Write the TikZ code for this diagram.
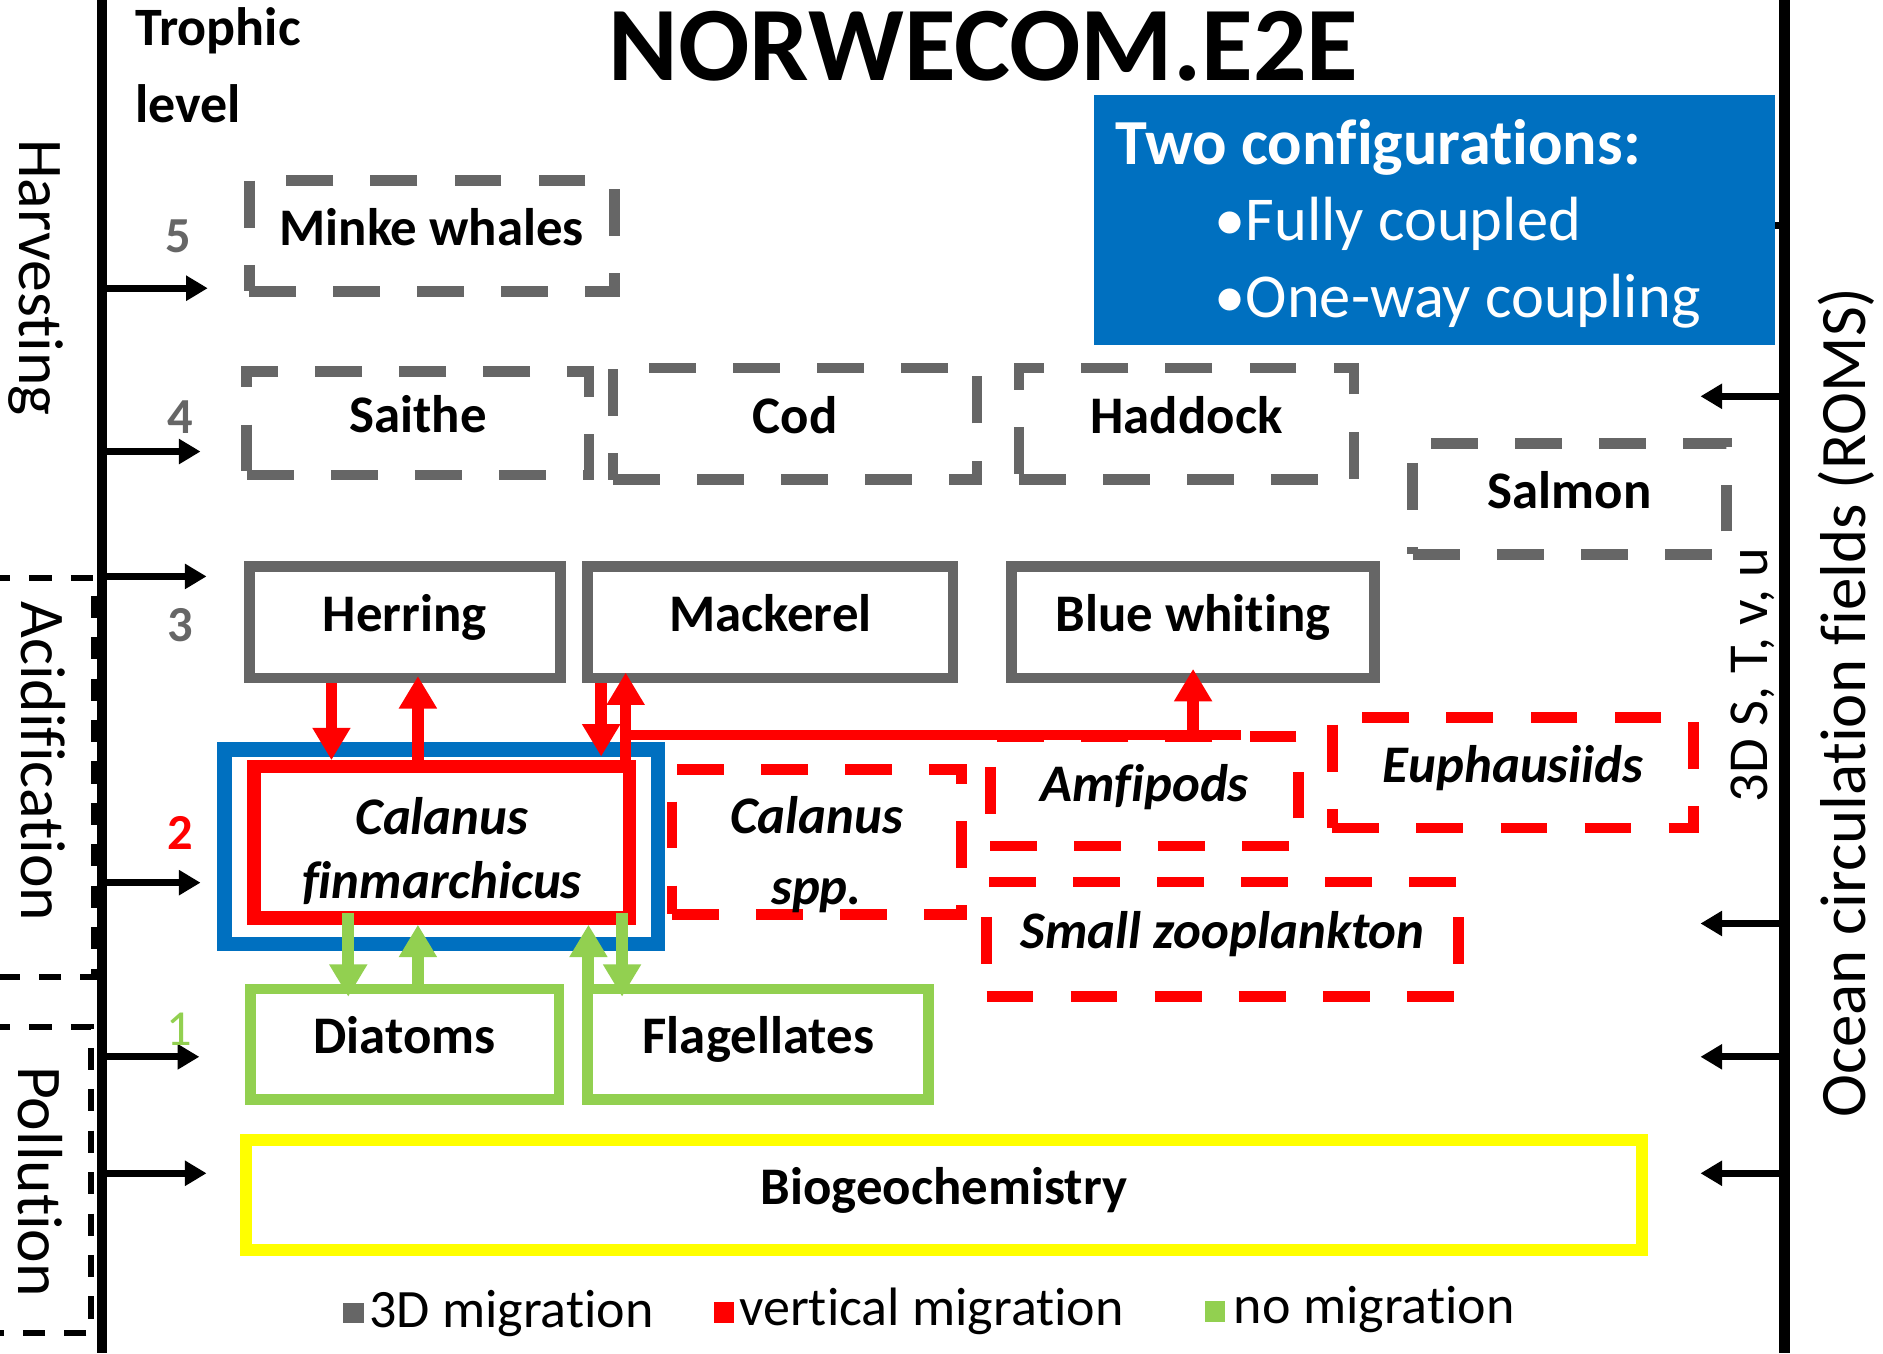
\documentclass[tikz,border=0pt]{standalone}
\usepackage{fontspec}
\setmainfont{Carlito}[Ligatures=NoCommon]
\usetikzlibrary{arrows.meta}
\definecolor{tgray}{HTML}{666666}
\definecolor{tred}{HTML}{FF0000}
\definecolor{tgreen}{HTML}{92D050}
\definecolor{tblue}{HTML}{0070C0}
\definecolor{tyellow}{HTML}{FFFF00}
\begin{document}
\begin{tikzpicture}[x=1pt,y=-1pt,
  box/.style={line width=9pt, inner sep=0pt, text height=33pt, text depth=17pt,
    font=\fontsize{44}{50}\selectfont\bfseries},
  solidg/.style={box, draw=tgray},
  dashg/.style={box, draw=tgray, dash pattern=on 39pt off 31pt},
  dashr/.style={box, draw=tred, dash pattern=on 39pt off 31pt,
    font=\fontsize{44}{50}\selectfont\bfseries\itshape},
  greenbox/.style={box, draw=tgreen},
  yelbox/.style={box, draw=tyellow, line width=10pt},
  barr/.style={line width=5.5pt, -{Triangle[length=18pt,width=20pt]}},
  rarr/.style={draw=tred, line width=9.5pt, -{Triangle[length=27pt,width=30pt]}},
  garr/.style={draw=tgreen, line width=10pt, -{Triangle[length=27pt,width=30pt]}},
  sidetext/.style={font=\fontsize{53}{60}\selectfont},
  numtext/.style={anchor=base, font=\fontsize{42}{48}\selectfont\bfseries},
  legtext/.style={anchor=base west, font=\fontsize{45}{50}\selectfont},
  legsq/.style={minimum size=17pt, inner sep=0pt},
  cfgtext/.style={anchor=base west, text=white, font=\fontsize{52}{58}\selectfont}
]
\useasboundingbox (0,0) rectangle (1568,1127);

% side dashed frames
\draw[line width=5pt, dash pattern=on 18.5pt off 16pt, dash phase=10pt]
  (0,481) -- (78.5,481) -- (78.5,813.5) -- (0,813.5);
\draw[line width=5pt, dash pattern=on 18.5pt off 16pt, dash phase=10pt]
  (0,855) -- (76,855) -- (76,1110) -- (0,1110);

% main vertical lines
\coordinate (ltop) at (85,0);
\coordinate (lbot) at (85,1127);
\coordinate (rtop) at (1486,0);
\coordinate (rbot) at (1486,1127);
\draw[line width=9pt] (ltop) -- (lbot);
\draw[line width=9pt] (rtop) -- (rbot);

% harvesting / forcing arrows (left)
\coordinate (hs5) at (85,240);  \coordinate (he5) at (173,240);
\coordinate (hs4) at (85,376);  \coordinate (he4) at (167,376);
\coordinate (hs3) at (85,480);  \coordinate (he3) at (172,480);
\coordinate (hs2) at (85,735);  \coordinate (he2) at (167,735);
\coordinate (hs1) at (85,880);  \coordinate (he1) at (166,880);
\coordinate (hs0) at (85,977);  \coordinate (he0) at (172,977);
\foreach \n in {5,4,3,2,1,0} \draw[barr] (hs\n) -- (he\n);

% ocean forcing arrows (right)
\coordinate (os5) at (1486,188);  \coordinate (oe5) at (1416,188);
\coordinate (os4) at (1486,330);  \coordinate (oe4) at (1416,330);
\coordinate (os2) at (1486,769);  \coordinate (oe2) at (1416,769);
\coordinate (os1) at (1486,880);  \coordinate (oe1) at (1416,880);
\coordinate (os0) at (1486,977);  \coordinate (oe0) at (1416,977);
\foreach \n in {5,4,2,1,0} \draw[barr] (os\n) -- (oe\n);

% title and headings
\node[anchor=base, font=\fontsize{88}{94}\selectfont\bfseries] (title) at (819,67) {NORWECOM.E2E};
\node[anchor=base west, font=\fontsize{45}{50}\selectfont\bfseries] (troph) at (109,38) {Trophic};
\node[anchor=base west, font=\fontsize{45}{50}\selectfont\bfseries] (level) at (109,102) {level};

% configuration box
\node[fill=tblue, minimum width=567pt, minimum height=208pt, inner sep=0pt] (config) at (1194.5,183) {};
\node[cfgtext, font=\fontsize{53.5}{58}\selectfont\bfseries] (cfg1) at (925,137) {Two configurations:};
\node[cfgtext] (cfg2) at (1008,200) {•Fully coupled};
\node[cfgtext] (cfg3) at (1008,264) {•One-way coupling};

% side labels
\node[sidetext, rotate=-90, anchor=base] (harv) at (16,231) {Harvesting};
\node[sidetext, rotate=-90, anchor=base] (acid) at (18,634) {Acidification};
\node[sidetext, rotate=-90, anchor=base] (poll) at (15.3,984) {Pollution};
\node[sidetext, rotate=90, anchor=base, font=\fontsize{54}{60}\selectfont] (ocean) at (1553,585) {Ocean circulation fields (ROMS)};
\node[rotate=90, anchor=base, font=\fontsize{47}{52}\selectfont] (vars) at (1472,562) {3D S, T, v, u};

% trophic level numbers
\node[numtext, text=tgray] (n5) at (148.5,210) {5};
\node[numtext, text=tgray] (n4) at (150.5,361) {4};
\node[numtext, text=tgray] (n3) at (150.5,534.5) {3};
\node[numtext, text=tred] (n2) at (150.5,707) {2};
\node[numtext, text=tgreen, font=\fontsize{42}{48}\selectfont] (n1) at (149,871) {1};

% level 5 and 4
\node[dashg, minimum width=304pt, minimum height=92pt] (minke) at (359.5,196.5) {Minke whales};
\node[dashg, minimum width=285pt, minimum height=86pt] (saithe) at (348,352.5) {Saithe};
\node[dashg, minimum width=303pt, minimum height=93pt] (cod) at (662,353) {Cod};
\node[dashg, minimum width=279pt, minimum height=93pt] (haddock) at (988,353) {Haddock};
\node[dashg, minimum width=261pt, minimum height=92pt] (salmon) at (1307,415.5) {Salmon};

% level 3
\node[solidg, minimum width=259pt, minimum height=93pt] (herring) at (337,518) {Herring};
\node[solidg, minimum width=304pt, minimum height=93pt] (mackerel) at (641.5,518) {Mackerel};
\node[solidg, minimum width=302pt, minimum height=93pt] (bluew) at (993.5,518) {Blue whiting};

% level 2
\node[draw=tblue, line width=12pt, minimum width=361pt, minimum height=162pt, inner sep=0pt] (cbox) at (367.5,705) {};
\node[draw=tred, line width=11pt, minimum width=313pt, minimum height=126pt, inner sep=0pt,
  align=center, font=\fontsize{44}{53}\selectfont\bfseries\itshape] (cfin) at (368,701.5)
  {\rule{0pt}{45pt}Calanus\\finmarchicus};
\node[dashr, text height={}, text depth={}, minimum width=241pt, minimum height=121pt,
  align=center, font=\fontsize{44}{59}\selectfont\bfseries\itshape] (cspp) at (680,701)
  {\rule{0pt}{52pt}Calanus\\spp.};
\node[dashr, minimum width=257pt, minimum height=91pt] (amfi) at (953,659) {Amfipods};
\node[dashr, minimum width=301pt, minimum height=92pt] (euph) at (1260,643.5) {Euphausiids};
\node[dashr, minimum width=393pt, minimum height=95pt] (smallz) at (1018,782) {Small zooplankton};

% level 1 and biogeochemistry
\node[greenbox, minimum width=257pt, minimum height=92pt] (diatoms) at (337,869.5) {Diatoms};
\node[greenbox, minimum width=284pt, minimum height=92pt] (flag) at (631.5,869.5) {Flagellates};
\node[yelbox, minimum width=1162pt, minimum height=92pt] (biogeo) at (786,995) {Biogeochemistry};

% connectors
\coordinate (c276) at (276,0);
\coordinate (c348) at (348,0);
\coordinate (c501) at (500.6,0);
\coordinate (c521) at (521,0);
\coordinate (c290) at (290,0);
\coordinate (c490) at (490,0);
\coordinate (c518) at (518,0);
\coordinate (rj) at (521,612);
\coordinate (rje) at (1033,612);

\draw[rarr] (herring.south -| c276) -- (cfin.north -| c276);
\draw[rarr, shorten >=-6pt] (cfin.north -| c348) -- (herring.south -| c348);
\draw[rarr, shorten >=3pt] (mackerel.south -| c501) -- (cfin.north -| c501);
\draw[rarr, shorten >=-9pt] (cfin.north -| c521) -- (mackerel.south -| c521);
\draw[tred, line width=8.5pt] (rj) -- (rje);
\draw[rarr, shorten >=-12pt] (rj -| bluew) -- (bluew.south);

\draw[garr, shorten <=-10pt, shorten >=-11pt] (cfin.south -| c290) -- (diatoms.north -| c290);
\draw[garr] (diatoms.north -| c348) -- (cfin.south -| c348);
\draw[garr] (flag.north -| c490) -- (cfin.south -| c490);
\draw[garr, shorten <=-10pt, shorten >=-11pt] (cfin.south -| c518) -- (flag.north -| c518);

% legend
\node[legsq, fill=tgray] (lsq1) at (294.5,1093.5) {};
\node[legtext] (lt1) at (304,1105) {3D migration};
\node[legsq, fill=tred] (lsq2) at (603,1093) {};
\node[legtext] (lt2) at (612,1104) {vertical migration};
\node[legsq, fill=tgreen] (lsq3) at (1011.5,1092) {};
\node[legtext] (lt3) at (1024,1102) {no migration};
\end{tikzpicture}
\end{document}
